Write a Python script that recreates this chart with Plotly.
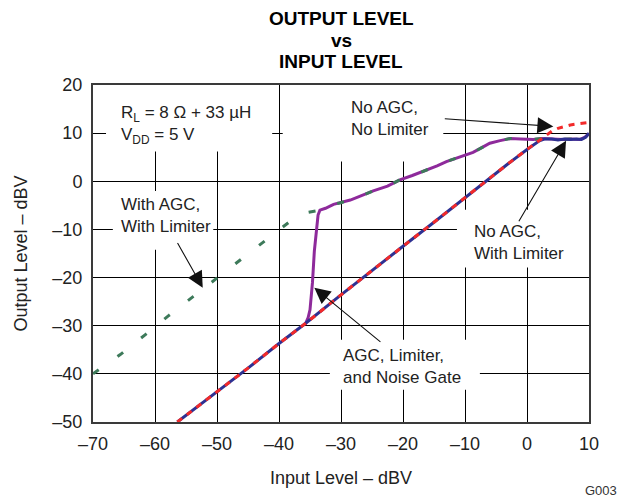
import plotly.graph_objects as go

# ---------------- data ----------------
x_ticks = [-70, -60, -50, -40, -30, -20, -10, 0, 10]
y_ticks = [-50, -40, -30, -20, -10, 0, 10, 20]

# AGC transfer curve (shared by "With AGC" and noise-gate curves)
agc_x = [-33.4, -32.5, -31.2, -30.2, -28.5, -26.9, -24.8, -22.5, -20.5, -18.5,
         -16.2, -14.5, -13.0, -11.0, -8.7, -7.0, -6.0, -4.5, -2.7, -1.0,
         1.0, 2.5, 4.2, 5.8, 7.0, 8.5, 9.3, 10.0]
agc_y = [-6.0, -5.6, -4.8, -4.5, -3.9, -3.1, -2.0, -1.0, 0.3, 1.2,
         2.3, 3.2, 4.1, 5.0, 6.0, 7.2, 7.9, 8.4, 8.9, 8.8,
         8.7, 8.9, 8.8, 8.7, 8.8, 8.7, 9.1, 9.9]

# With AGC, With Limiter (low-level part below the AGC knee)
green_low_x = [-70, -65.6, -61.6, -57.9, -53.8, -50, -46, -42.3, -38.2, -35.5]
green_low_y = [-40, -36.0, -31.9, -28.0, -23.9, -20.1, -16.1, -12.5, -8.3, -6.5]

# AGC, Limiter and Noise Gate (gate opening part)
gate_x = [-35.8, -35.3, -35.0, -34.6, -34.3, -34.0, -33.7]
gate_y = [-29.8, -28.3, -26.7, -21.0, -14.5, -10.0, -7.0]

# No AGC, With Limiter
blue_x = [-56.4, -50, -45, -40, -35.8, -30, -25, -20, -15, -10, -6.8, -3, 0, 2,
          2.9, 4, 5, 6, 7, 8, 8.8, 9.5, 10]
blue_y = [-50, -43.8, -38.8, -33.7, -29.6, -23.6, -18.5, -13.5, -8.5, -3.4, 0,
          3.7, 6.6, 8.4, 8.8, 8.8, 8.6, 8.8, 8.7, 8.8, 8.7, 9.2, 10]

# No AGC, No Limiter
red_x = [-56.4, -50, -45, -40, -35.8, -30, -25, -20, -15, -10, -6.8, -3, 0, 2,
         3, 4, 5, 6, 7, 8, 9, 10]
red_y = [-50, -43.8, -38.8, -33.7, -29.6, -23.6, -18.5, -13.5, -8.5, -3.4, 0,
         3.7, 6.6, 8.5, 9.5, 10.4, 11.0, 11.4, 11.7, 11.9, 12.1, 12.2]

green_x = green_low_x + agc_x
green_y = green_low_y + agc_y
purple_x = gate_x + agc_x
purple_y = gate_y + agc_y

FONT = "Liberation Sans, Arial, sans-serif"
BLUE = "#2e3192"
RED = "#f22a2a"
PURPLE = "#8e2a9b"
GREEN = "#3d7a5a"

fig = go.Figure()
fig.add_trace(go.Scatter(x=purple_x, y=purple_y, mode="lines",
                         line=dict(color=PURPLE, width=3),
                         name="AGC, Limiter, and Noise Gate"))
fig.add_trace(go.Scatter(x=green_x, y=green_y, mode="lines",
                         line=dict(color=GREEN, width=3, dash="7px,23px"),
                         name="With AGC, With Limiter"))
fig.add_trace(go.Scatter(x=blue_x, y=blue_y, mode="lines",
                         line=dict(color=BLUE, width=3),
                         name="No AGC, With Limiter"))
fig.add_trace(go.Scatter(x=red_x, y=red_y, mode="lines",
                         line=dict(color=RED, width=3, dash="6px,6px"),
                         name="No AGC, No Limiter"))

# white boxes behind the labels (mask the grid)
boxes = [(-67.9, -41.1, 6.2, 20), (-39.4, -13.5, 4.1, 20),
         (-66.8, -50.6, -14.2, -2.0), (-11.3, 10, -17.9, -5.9),
         (-31.8, -7.6, -43.3, -32.9)]
for x0, x1, y0, y1 in boxes:
    fig.add_shape(type="rect", x0=x0, x1=x1, y0=y0, y1=y1, xref="x", yref="y",
                  fillcolor="white", line=dict(width=0), layer="between")

lab = dict(font=dict(family=FONT, size=17, color="#222"), showarrow=False,
           xanchor="left", yanchor="middle", align="left", xref="x", yref="y")
fig.add_annotation(x=-65.8, y=11.6, text="R<sub>L</sub> = 8 Ω + 33 µH<br>V<sub>DD</sub> = 5 V", **lab)
fig.add_annotation(x=-28.7, y=13.0, text="No AGC,<br>No Limiter", **lab)
fig.add_annotation(x=-65.8, y=-7.1, text="With AGC,<br>With Limiter", **lab)
fig.add_annotation(x=-8.9, y=-12.8, text="No AGC,<br>With Limiter", **lab)
fig.add_annotation(x=-30.0, y=-38.4, text="AGC, Limiter,<br>and Noise Gate", **lab)

arrows = [((4.25, 11.4), (-13.5, 13.0)), ((6.3, 8.4), (-1.45, -8.6)),
          ((-52.3, -22.1), (-56.5, -12.5)), ((-34.3, -22.1), (-23.4, -33.6))]
for (tx, ty), (sx, sy) in arrows:
    fig.add_annotation(x=tx, y=ty, ax=sx, ay=sy, xref="x", yref="y",
                       axref="x", ayref="y", text="", showarrow=True,
                       arrowhead=2, arrowsize=2.9, arrowwidth=1.1,
                       arrowcolor="#111", standoff=0, startstandoff=0)

# title lines
tfont = dict(family=FONT, size=19, color="black")
for txt, yp in [("<b>OUTPUT LEVEL</b>", 1.1976), ("<b>vs</b>", 1.1332),
                ("<b>INPUT LEVEL</b>", 1.0691)]:
    fig.add_annotation(x=0.5, y=yp, xref="paper", yref="paper", text=txt,
                       showarrow=False, xanchor="center", yanchor="middle",
                       font=tfont)
fig.add_annotation(x=1.0605, y=-0.204, xref="paper", yref="paper", text="G003",
                   showarrow=False, xanchor="right", yanchor="middle",
                   font=dict(family=FONT, size=13, color="#333"))

def lbl(v):
    return ("–" + str(-v)) if v < 0 else str(v)

axis_common = dict(showgrid=True, gridcolor="black", gridwidth=1,
                   showline=True, mirror=True, linecolor="#3a3a3a", linewidth=2,
                   zeroline=False, ticks="", automargin=False,
                   tickfont=dict(family=FONT, size=18, color="#222"))
fig.update_xaxes(range=[-70, 10], tickmode="array", tickvals=x_ticks,
                 ticktext=[lbl(v) for v in x_ticks], ticklabelstandoff=4,
                 title=dict(text="Input Level – dBV", standoff=19,
                            font=dict(family=FONT, size=18, color="#222")),
                 **axis_common)
fig.update_yaxes(range=[-50, 20], tickmode="array", tickvals=y_ticks,
                 ticktext=[lbl(v) for v in y_ticks], ticklabelstandoff=5,
                 title=dict(text="Output Level – dBV", standoff=20,
                            font=dict(family=FONT, size=18, color="#222")),
                 **axis_common)

fig.update_layout(width=629, height=497, showlegend=False,
                  margin=dict(l=93, r=40, t=85, b=75),
                  plot_bgcolor="white", paper_bgcolor="white")

fig.write_html("out.html", config={"displayModeBar": False},
               post_script="document.body.style.margin='0px';"
                           "document.body.style.overflow='hidden';")
